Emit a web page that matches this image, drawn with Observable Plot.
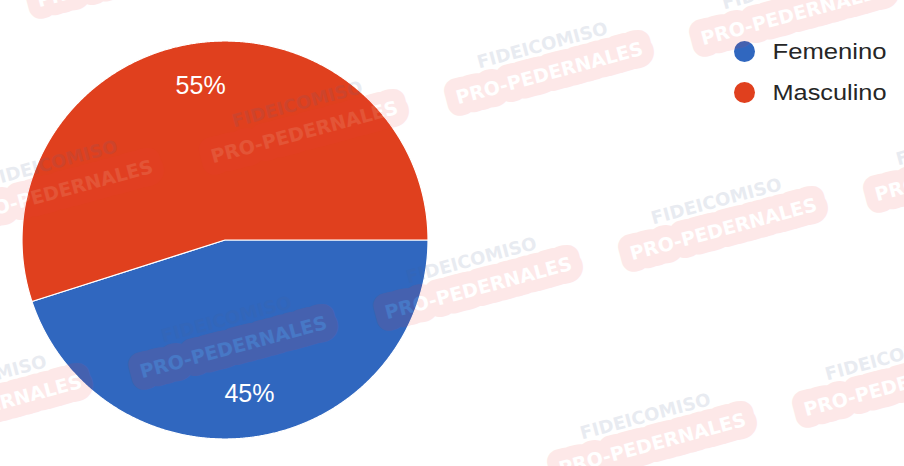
<!DOCTYPE html>
<html><head><meta charset="utf-8">
<script src="https://cdn.jsdelivr.net/npm/d3@7"></script>
<script src="https://cdn.jsdelivr.net/npm/@observablehq/plot@0.6"></script>
<style>
html,body{margin:0;padding:0;background:#fff;overflow:hidden;}
#chart svg{display:block;}
</style></head><body><div id="chart"></div>
<script>
const categories = ["Femenino", "Masculino"];
const values = [45, 55];
const colors = ["#3067bf", "#e0401e"];
const watermarkLines = ["FIDEICOMISO", "PRO-PEDERNALES"];

const W = 904, H = 466;
const cx = 224.5, cy = 239.5, rx = 203, ry = 199, labelR = 156;
const pie = d3.pie().sort(null).startAngle(Math.PI / 2).endAngle(Math.PI / 2 + 2 * Math.PI)(values);
const total = d3.sum(values);

const slicePts = [];
pie.forEach((a, i) => {
  const cat = categories[i];
  slicePts.push({cat, x: cx, y: cy});
  const n = Math.ceil((a.endAngle - a.startAngle) / 0.005);
  for (let k = 0; k <= n; k++) {
    const t = a.startAngle + (a.endAngle - a.startAngle) * k / n;
    slicePts.push({cat, x: cx + rx * Math.sin(t), y: cy - ry * Math.cos(t)});
  }
  slicePts.push({cat, x: cx, y: cy});
});
const labels = pie.map((a, i) => {
  const m = (a.startAngle + a.endAngle) / 2;
  return {text: Math.round(values[i] / total * 100) + "%", x: cx + labelR * Math.sin(m), y: cy - labelR * Math.cos(m)};
});
const legend = categories.map((c, i) => ({cat: c, x: 744, y: 51 + i * 41}));

const wm = [];
for (let i = -4; i <= 4; i++) for (let j = -4; j <= 4; j++) {
  const px = 478 + i * 174 + j * 245, py = 288 + i * 156 - j * 59;
  if (px > -90 && px < W + 90 && py > -25 && py < H + 25) wm.push({x: px, y: py});
}

const chart = Plot.plot({
  width: W, height: H, margin: 0,
  x: {domain: [0, W], range: [0, W], axis: null},
  y: {domain: [0, H], range: [0, H], axis: null},
  color: {domain: categories, range: colors},
  style: {background: "white"},
  marks: [
    Plot.line(slicePts, {x: "x", y: "y", z: "cat", fill: "cat", stroke: "white", strokeWidth: 1.2, curve: "linear"}),
    Plot.text(labels, {x: "x", y: "y", text: "text", fill: "white", fontSize: 25, fontFamily: "Liberation Sans, Arial, sans-serif"}),
    Plot.dot(legend, {x: "x", y: "y", r: 10.5, fill: "cat"}),
    Plot.text(legend, {x: d => d.x + 28, y: "y", text: "cat", textAnchor: "start", fontSize: 22, fill: "#262626", fontFamily: "Liberation Sans, Arial, sans-serif"}),
    Plot.text(wm, {x: d => d.x, y: d => d.y, text: () => watermarkLines[1], rotate: -15, fontSize: 19, fontWeight: "bold", fontFamily: "DejaVu Sans, sans-serif", fill: "#ffffff", stroke: "#ee3a3a", strokeWidth: 24, strokeLinejoin: "round", opacity: 0.11}),
    Plot.text(wm, {x: d => d.x - 7, y: d => d.y - 28, text: () => watermarkLines[0], rotate: -15, fontSize: 18, fontWeight: "bold", fontFamily: "DejaVu Sans, sans-serif", fill: "#4a6490", opacity: 0.12})
  ]
});
d3.select(chart).selectAll("text").filter(function () { return categories.includes(this.textContent); })
  .attr("textLength", 114).attr("lengthAdjust", "spacingAndGlyphs");
document.getElementById("chart").append(chart);
</script>
</body></html>
